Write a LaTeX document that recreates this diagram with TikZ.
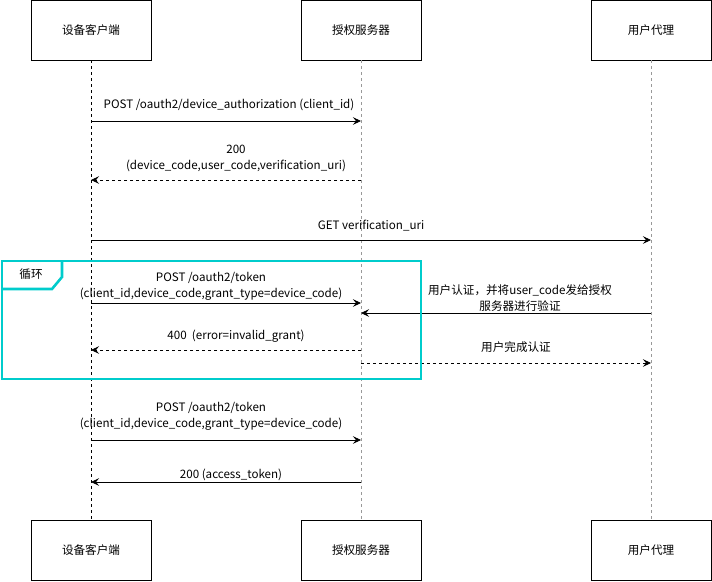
\documentclass[tikz,border=0pt]{standalone}
\usepackage{fontspec}
\setmainfont{Noto Sans CJK SC}
\usetikzlibrary{arrows.meta}
\definecolor{loopc}{RGB}{0,204,204}
\begin{document}
\begin{tikzpicture}[x=1pt,y=-1pt,
  actor/.style={draw,line width=0.8pt,minimum width=120pt,minimum height=60pt,inner sep=0pt,font=\fontsize{11.6}{13}\selectfont},
  life/.style={line width=0.8pt,dash pattern=on 3pt off 3pt},
  msg/.style={line width=0.8pt,-{Stealth[length=8pt,width=7.5pt,inset=3pt]}},
  ret/.style={msg,dash pattern=on 3pt off 3pt},
  lbl/.style={font=\fontsize{11.6}{16}\selectfont,align=center,inner sep=0pt}]
\useasboundingbox (0,0) rectangle (712,581);
\fill[white] (0,0) rectangle (712,581);
% actors
\node[actor] (c1) at (91,30) {设备客户端};
\node[actor] (s1) at (361,30) {授权服务器};
\node[actor] (u1) at (651,30) {用户代理};
\node[actor] (c2) at (91,550) {设备客户端};
\node[actor] (s2) at (361,550) {授权服务器};
\node[actor] (u2) at (651,550) {用户代理};
% lifelines
\draw[life,black] (c1.south) -- (c2.north);
\draw[life,gray!80] (s1.south) -- (s2.north);
\draw[life,gray!80] (u1.south) -- (u2.north);
% coordinates
\coordinate (ca) at (91,121); \coordinate (sa) at (361,121);
\coordinate (cb) at (91,180); \coordinate (sb) at (361,180);
\coordinate (cc) at (91,240); \coordinate (uc) at (651,240);
\coordinate (cd) at (91,303); \coordinate (sd) at (361,303);
\coordinate (se) at (361,313); \coordinate (ue) at (651,313);
\coordinate (cf) at (91,350); \coordinate (sf) at (361,350);
\coordinate (sg) at (361,363); \coordinate (ug) at (651,363);
\coordinate (ch) at (91,440); \coordinate (sh) at (361,440);
\coordinate (ci) at (91,482); \coordinate (si) at (361,482);
% messages
\draw[msg] (ca) -- (sa);
\node[lbl] at (229,105) {POST /oauth2/device\_authorization (client\_id)};
\draw[ret] (sb) -- (cb);
\node[lbl] at (236,158) {200\\(device\_code,user\_code,verification\_uri)};
\draw[msg] (cc) -- (uc);
\node[lbl] at (371,226) {GET verification\_uri};
\draw[msg] (cd) -- (sd);
\node[lbl] at (211,286) {POST /oauth2/token\\(client\_id,device\_code,grant\_type=device\_code)};
\draw[msg] (ue) -- (se);
\node[lbl] at (520,298) {用户认证，并将user\_code发给授权\\服务器进行验证};
\draw[ret] (sf) -- (cf);
\node[lbl] at (236,336) {400\ \ (error=invalid\_grant)};
\draw[ret] (sg) -- (ug);
\node[lbl] at (516,347) {用户完成认证};
\draw[msg] (ch) -- (sh);
\node[lbl] at (211,416) {POST /oauth2/token\\(client\_id,device\_code,grant\_type=device\_code)};
\draw[msg] (si) -- (ci);
\node[lbl] at (231,475) {200 (access\_token)};
% loop frame
\draw[loopc,line width=2.6pt] (2,261) rectangle (421,379);
\draw[loopc,line width=2.6pt] (2,289) -- (52,289) -- (62,277) -- (62,261);
\node[lbl] (loopl) at (31,274) {循环};
\end{tikzpicture}
\end{document}
